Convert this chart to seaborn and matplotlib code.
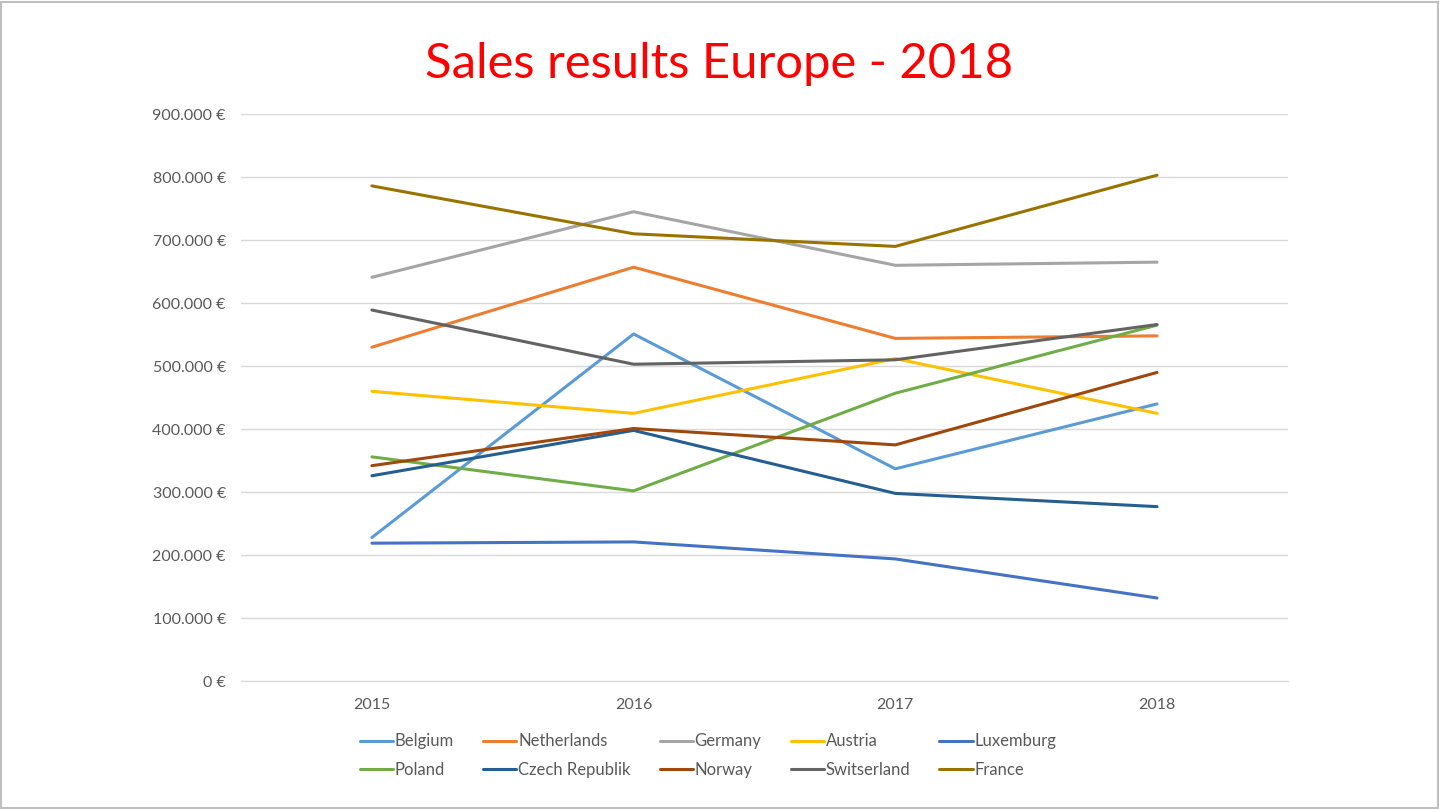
import pandas as pd
import matplotlib.pyplot as plt
import seaborn as sns
from matplotlib.patches import Rectangle
from matplotlib.ticker import FuncFormatter

# Données
years = [2015, 2016, 2017, 2018]
belgium = [228000, 551000, 337000, 440000]
netherlands = [530000, 657000, 544000, 548000]
germany = [641000, 745000, 660000, 665000]
austria = [460000, 425000, 512000, 425000]
luxemburg = [219000, 221000, 194000, 132000]
poland = [356000, 302000, 457000, 565000]
czech = [326000, 398000, 298000, 277000]
norway = [342000, 401000, 375000, 490000]
switzerland = [589000, 503000, 510000, 566000]
france = [786000, 710000, 690000, 803000]

countries = ["Belgium", "Netherlands", "Germany", "Austria", "Luxemburg",
             "Poland", "Czech Republik", "Norway", "Switserland", "France"]
series = [belgium, netherlands, germany, austria, luxemburg,
          poland, czech, norway, switzerland, france]
colors = ["#5B9BD5", "#ED7D31", "#A5A5A5", "#FFC000", "#4472C4",
          "#70AD47", "#255E91", "#9E480E", "#636363", "#997300"]

rows = []
for c, vals in zip(countries, series):
    for y, v in zip(years, vals):
        rows.append({"Year": y, "Country": c, "Sales": v})
df = pd.DataFrame(rows)

sns.set_style("white")
plt.rcParams["font.family"] = ["Lato", "DejaVu Sans"]

fig = plt.figure(figsize=(14.39, 8.09), dpi=100)
ax = fig.add_axes([0.1675, 0.158, 0.7275, 0.701])

sns.lineplot(data=df, x="Year", y="Sales", hue="Country", hue_order=countries,
             palette=dict(zip(countries, colors)), linewidth=2.2, legend=False, ax=ax)

ax.set_xlim(2014.5, 2018.5)
ax.set_ylim(0, 900000)
ax.set_xticks(years)
ax.set_xticklabels([str(y) for y in years])
ax.set_yticks(range(0, 900001, 100000))
ax.yaxis.set_major_formatter(FuncFormatter(
    lambda v, p: "0 €" if v == 0 else f"{int(v):,} €".replace(",", ".")))
ax.set_xlabel("")
ax.set_ylabel("")
ax.grid(axis="y", color="#D9D9D9", linewidth=1)
ax.set_axisbelow(True)
for s in ["top", "right", "left"]:
    ax.spines[s].set_visible(False)
ax.spines["bottom"].set_color("#D9D9D9")
ax.tick_params(axis="both", length=0, labelsize=11.5, colors="#595959")
ax.tick_params(axis="y", pad=11)
ax.tick_params(axis="x", pad=12)

fig.suptitle("Sales results Europe - 2018", color="#FF0000", fontsize=35.3, y=0.948)

# Légende : remplir ligne par ligne (5 colonnes)
handles = ax.get_lines()[:len(countries)]
order = [0, 5, 1, 6, 2, 7, 3, 8, 4, 9]
leg = fig.legend([handles[i] for i in order], [countries[i] for i in order],
                 loc="upper center", bbox_to_anchor=(0.5, 0.9), ncol=5, frameon=False,
                 fontsize=12, handlelength=2.0, columnspacing=1.75, labelspacing=0.75,
                 handletextpad=0.1)
for t in leg.get_texts():
    t.set_color("#595959")
leg.set_bbox_to_anchor((0.492, 0.112), transform=fig.transFigure)

fig.patches.append(Rectangle((0.001, 0.001), 0.998, 0.997, transform=fig.transFigure,
                             fill=False, edgecolor="#BFBFBF", linewidth=1.5))

fig.savefig("out.png", dpi=100)
